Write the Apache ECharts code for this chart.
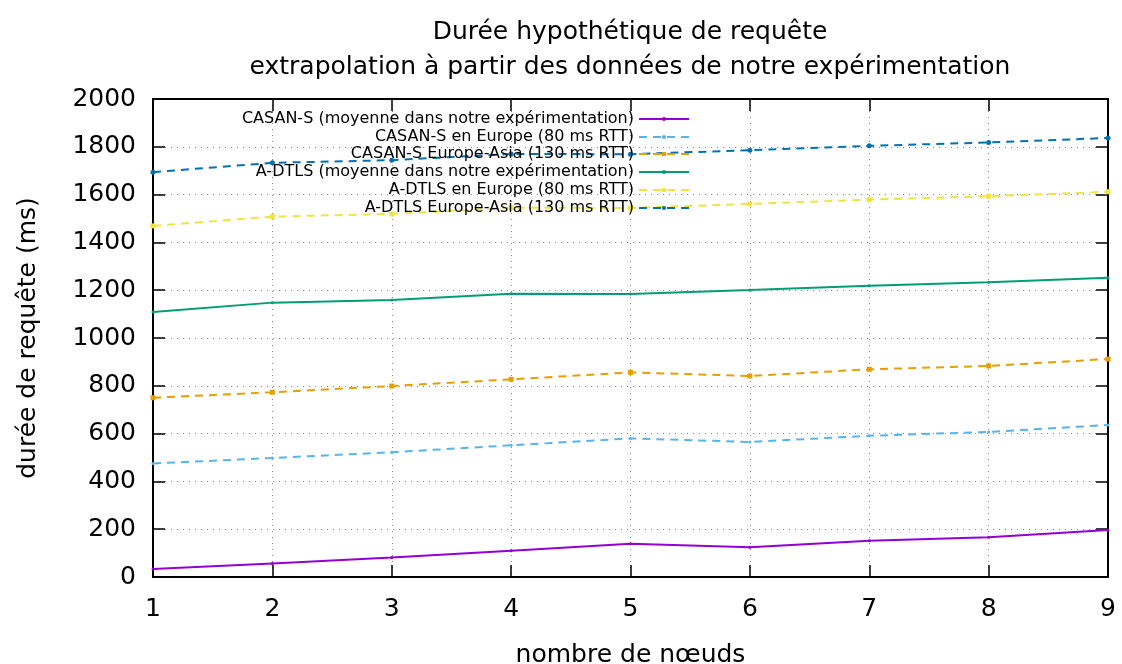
<!DOCTYPE html>
<html>
<head>
<meta charset="utf-8">
<script src="https://cdn.jsdelivr.net/npm/echarts@6/dist/echarts.min.js"></script>
<style>
  html, body { margin: 0; padding: 0; background: #fff; }
  #main { width: 1122px; height: 664px; }
</style>
</head>
<body>
<div id="main"></div>
<script>
// nombre de noeuds
var noeuds = [1, 2, 3, 4, 5, 6, 7, 8, 9];

// durées (ms)
var casanMoyenne = [33, 57, 82, 110, 139, 124, 152, 166, 197];
var casanEurope = [475, 498, 522, 551, 580, 565, 591, 607, 636];
var casanAsie = [750, 773, 799, 827, 856, 841, 869, 883, 912];
var dtlsMoyenne = [1109, 1148, 1159, 1185, 1184, 1201, 1219, 1233, 1252];
var dtlsEurope = [1469, 1508, 1519, 1545, 1544, 1561, 1579, 1593, 1612];
var dtlsAsie = [1694, 1733, 1744, 1770, 1769, 1786, 1804, 1818, 1837];

var noms = [
  "CASAN-S (moyenne dans notre expérimentation)",
  "CASAN-S en Europe (80 ms RTT)",
  "CASAN-S Europe-Asia (130 ms RTT)",
  "A-DTLS (moyenne dans notre expérimentation)",
  "A-DTLS en Europe (80 ms RTT)",
  "A-DTLS Europe-Asia (130 ms RTT)"
];
var couleurs = ["#9400d3", "#56b4e9", "#e69f00", "#009e73", "#f0e442", "#0072b2"];

var police = "DejaVu Sans";

function paires(vals) {
  return vals.map(function (v, i) { return [noeuds[i], v]; });
}

function serie(idx, vals, dash, symbol, size) {
  return {
    name: noms[idx],
    type: "line",
    data: paires(vals),
    symbol: symbol,
    symbolSize: size,
    color: couleurs[idx],
    lineStyle: { width: 2, type: dash, color: couleurs[idx] },
    itemStyle: { color: couleurs[idx] },
    animation: false
  };
}

// une légende par ligne pour aligner le texte à droite
var rangs = [119, 137, 154, 172, 190, 208];
var legendes = noms.map(function (n, i) {
  return {
    data: [n],
    right: 432,
    top: rangs[i] - 8,
    padding: 0,
    align: "right",
    itemWidth: 50,
    itemHeight: 5,
    textStyle: { fontFamily: police, fontSize: 16, color: "#000" },
    selectedMode: false
  };
});

var chart = echarts.init(document.getElementById("main"));
chart.setOption({
  backgroundColor: "#fff",
  title: {
    text: "Durée hypothétique de requête\nextrapolation à partir des données de notre expérimentation",
    left: 630,
    top: 15,
    padding: 0,
    textAlign: "center",
    textStyle: { fontFamily: police, fontSize: 25, fontWeight: "normal", color: "#000", lineHeight: 35 }
  },
  legend: legendes,
  grid: { left: 153, right: 14, top: 99, bottom: 87, outerBoundsMode: "none" },
  xAxis: [
    {
      type: "value",
      min: 1, max: 9, interval: 1,
      name: "nombre de nœuds",
      nameLocation: "middle",
      nameGap: 66,
      nameTextStyle: { fontFamily: police, fontSize: 25, color: "#000" },
      axisLine: { lineStyle: { color: "#000", width: 2 } },
      axisTick: { inside: true, length: 12, lineStyle: { color: "#000", width: 1.5 } },
      axisLabel: { fontFamily: police, fontSize: 25, color: "#000", margin: 20 },
      splitLine: { show: true, lineStyle: { type: [1, 5], color: "#888", width: 1 } }
    },
    {
      type: "value",
      position: "top",
      min: 1, max: 9, interval: 1,
      axisLine: { show: true, onZero: false, lineStyle: { color: "#000", width: 2 } },
      axisTick: { inside: true, length: 12, lineStyle: { color: "#000", width: 1.5 } },
      axisLabel: { show: false },
      splitLine: { show: false }
    }
  ],
  yAxis: [
    {
      type: "value",
      min: 0, max: 2000, interval: 200,
      name: "durée de requête (ms)",
      nameLocation: "middle",
      nameGap: 112,
      nameTextStyle: { fontFamily: police, fontSize: 25, color: "#000" },
      axisLine: { show: true, lineStyle: { color: "#000", width: 2 } },
      axisTick: { show: true, inside: true, length: 12, lineStyle: { color: "#000", width: 1.5 } },
      axisLabel: {
        fontFamily: police, fontSize: 25, color: "#000", margin: 17,
        formatter: function (v) { return String(v); }
      },
      splitLine: { show: true, lineStyle: { type: [1, 5], color: "#888", width: 1 } }
    },
    {
      type: "value",
      position: "right",
      min: 0, max: 2000, interval: 200,
      axisLine: { show: true, onZero: false, lineStyle: { color: "#000", width: 2 } },
      axisTick: { show: true, inside: true, length: 12, lineStyle: { color: "#000", width: 1.5 } },
      axisLabel: { show: false },
      splitLine: { show: false }
    }
  ],
  series: [
    serie(0, casanMoyenne, "solid", "circle", 3),
    serie(1, casanEurope, [8, 6], "circle", 3),
    serie(2, casanAsie, [8, 6], "rect", 5),
    serie(3, dtlsMoyenne, "solid", "circle", 3),
    serie(4, dtlsEurope, [8, 6], "rect", 5),
    serie(5, dtlsAsie, [8, 6], "circle", 5)
  ]
});
</script>
</body>
</html>
